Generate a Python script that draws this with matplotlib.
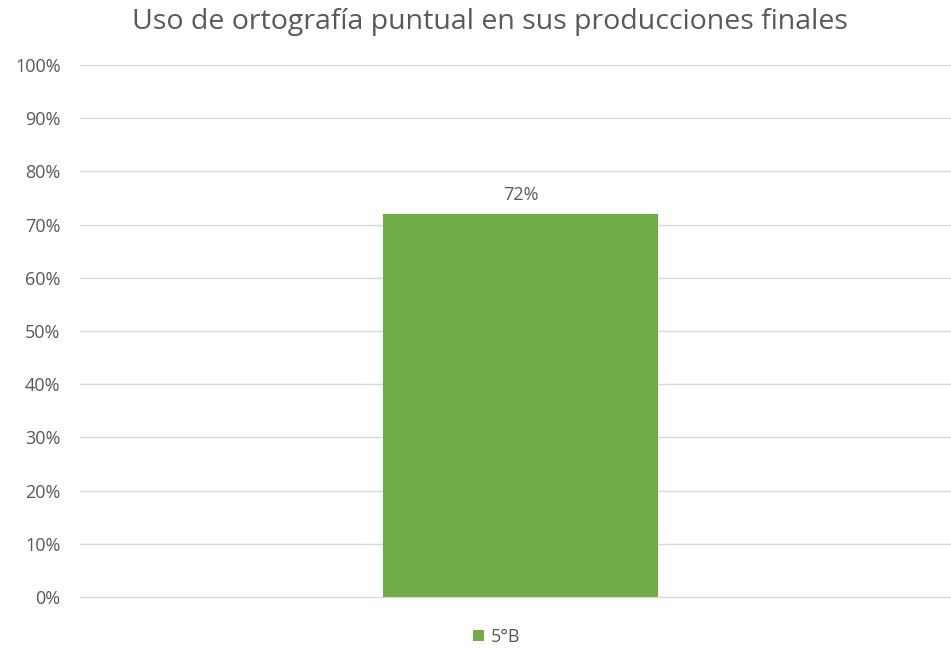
import matplotlib.pyplot as plt
import numpy as np

# data
categories = ['']
series_name = '5°B'
values = [0.72]
yticks = np.arange(0, 1.01, 0.1)
title = 'Uso de ortografía puntual en sus producciones finales'

text_col = '#595959'
bar_col = '#70AD47'
grid_col = '#D9D9D9'

plt.rcParams['font.family'] = ['Open Sans', 'DejaVu Sans']

fig = plt.figure(figsize=(9.51, 6.49), dpi=100)
ax = fig.add_axes([80/951, 1-597/649, 881/951, (597-65)/649])

x = np.arange(len(categories))
bars = ax.bar(x, values, width=0.312, color=bar_col, label=series_name, zorder=3)
for b, v in zip(bars, values):
    ax.text(b.get_x()+b.get_width()/2, v+0.035, f'{v:.0%}', ha='center', va='center',
            fontsize=13, color=text_col)

ax.set_xlim(-0.5, 0.5)
ax.set_ylim(0, 1)
ax.set_yticks(yticks)
ax.set_yticklabels([f'{t:.0%}' for t in yticks], fontsize=13, color=text_col)
ax.set_xticks([])
ax.tick_params(axis='y', length=0, pad=14)
ax.grid(axis='y', color=grid_col, linewidth=1, zorder=0)
for line in ax.get_ygridlines():
    line.set_clip_on(False)
for s in ax.spines.values():
    s.set_visible(False)

fig.text(490/951, 1-22/649, title, ha='center', va='center', fontsize=20.5, color=text_col)
fig.legend(handles=[bars], labels=[series_name], loc='center', bbox_to_anchor=(497/951, 1-637/649),
           frameon=False, fontsize=13, labelcolor=text_col, handlelength=0.6, handleheight=0.6,
           handletextpad=0.4)

fig.savefig('out.png', dpi=100)
